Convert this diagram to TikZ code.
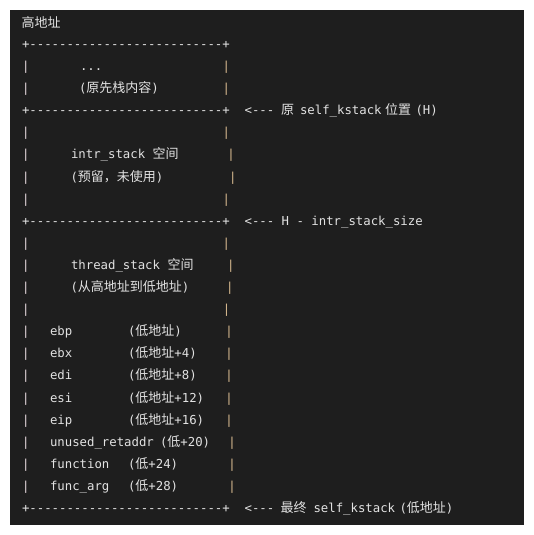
\documentclass[tikz,border=0pt]{standalone}
\usepackage{fontspec}
\setmonofont{DejaVu Sans Mono}
\newfontfamily\cjkf{Noto Sans CJK SC}
\definecolor{panel}{HTML}{1E1E1E}
\definecolor{fg}{HTML}{E2E2E2}
\definecolor{pipeL}{HTML}{E8DADF}
\definecolor{pipeR}{HTML}{D8BA90}
\newcommand\zh[1]{{\cjkf\fontsize{13}{13}\selectfont #1}}
\newcommand\R[1]{26.3+22.1*#1}
\tikzset{
  code/.style={font=\ttfamily\fontsize{12.33}{13}\selectfont, text=fg, inner sep=0pt, outer sep=0pt, anchor=base west},
  lpipe/.style={code, text=pipeL},
  rpipe/.style={code, anchor=base, text=pipeR},
}
\begin{document}
\begin{tikzpicture}[x=1pt,y=-1pt]
\useasboundingbox (0,0) rectangle (534,535);
\fill[white] (0,0) rectangle (534,535);
\fill[panel] (10,10) rectangle (524,525);
\node[code] (title) at (21.5,27.4) {\zh{高地址}};
% borders
\node[code] (b1) at (22,{\R{1}}) {+--------------------------+};
\node[code] (b4) at (22,{\R{4}}) {+--------------------------+};
\node[code] (b9) at (22,{\R{9}}) {+--------------------------+};
\node[code] (b22) at (22,{\R{22}}) {+--------------------------+};
% left pipes
\foreach \i in {2,3,5,6,7,8,10,11,12,13,14,15,16,17,18,19,20,21}
  \node[lpipe] (lp\i) at (22,{\R{\i}}) {|};
% right pipes
\foreach \i/\x in {2/226.3,3/226.3,5/226.3,6/231.1,7/232.9,8/226.3,10/226.3,11/230.8,12/229.8,13/226.7,14/229,15/229,16/229,17/229,18/229,19/232,20/232,21/232}
  \node[rpipe] (rp\i) at (\x,{\R{\i}}) {|};
% contents
\node[code] (dots) at (80,{\R{2}}) {...};
\node[code] (orig) at (79,{\R{3}}) {(\zh{原先栈内容})};
\node[code] (intr) at (71,{\R{6}}) {intr\_stack \zh{空间}};
\node[code] (resv) at (70.5,{\R{7}}) {(\zh{预留，未使用})};
\node[code] (thr) at (71,{\R{11}}) {thread\_stack \zh{空间}};
\node[code] (dir) at (70.5,{\R{12}}) {(\zh{从高地址到低地址})};
\node[code] (r14) at (50,{\R{14}}) {ebp};
\node[code] (a14) at (128,{\R{14}}) {(\zh{低地址})};
\node[code] (r15) at (50,{\R{15}}) {ebx};
\node[code] (a15) at (128,{\R{15}}) {(\zh{低地址}+4)};
\node[code] (r16) at (50,{\R{16}}) {edi};
\node[code] (a16) at (128,{\R{16}}) {(\zh{低地址}+8)};
\node[code] (r17) at (50,{\R{17}}) {esi};
\node[code] (a17) at (128,{\R{17}}) {(\zh{低地址}+12)};
\node[code] (r18) at (50,{\R{18}}) {eip};
\node[code] (a18) at (128,{\R{18}}) {(\zh{低地址}+16)};
\node[code] (r19) at (50,{\R{19}}) {unused\_retaddr};
\node[code] (a19) at (160,{\R{19}}) {(\zh{低}+20)};
\node[code] (r20) at (50,{\R{20}}) {function};
\node[code] (a20) at (128,{\R{20}}) {(\zh{低}+24)};
\node[code] (r21) at (50,{\R{21}}) {func\_arg};
\node[code] (a21) at (128,{\R{21}}) {(\zh{低}+28)};
% labels on the right
\node[code] (l4a) at (244.6,{\R{4}}) {<---};
\node[code] (l4b) at (281,{\R{4}}) {\zh{原}};
\node[code] (l4c) at (300,{\R{4}}) {self\_kstack};
\node[code] (l4d) at (385,{\R{4}}) {\zh{位置}};
\node[code] (l4e) at (415.5,{\R{4}}) {(H)};
\node[code] (l9) at (244.6,{\R{9}}) {<--- H - intr\_stack\_size};
\node[code] (l22a) at (244.6,{\R{22}}) {<---};
\node[code] (l22b) at (280.5,{\R{22}}) {\zh{最终}};
\node[code] (l22c) at (313.5,{\R{22}}) {self\_kstack};
\node[code] (l22d) at (399.5,{\R{22}}) {(\zh{低地址})};
\end{tikzpicture}
\end{document}
